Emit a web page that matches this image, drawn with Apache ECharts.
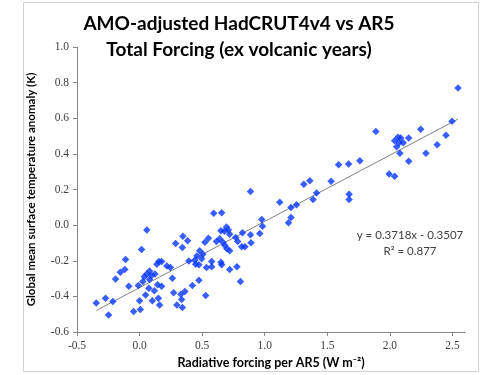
<!DOCTYPE html>
<html>
<head>
<meta charset="utf-8">
<script src="https://cdn.jsdelivr.net/npm/echarts@6/dist/echarts.min.js"></script>
<style>
  html, body { margin: 0; padding: 0; background: #fff; }
  #chart { width: 500px; height: 375px; }
</style>
</head>
<body>
<div id="chart"></div>
<script>
// radiative forcing (x) and AMO-adjusted temperature anomaly (y)
const forcing = [
  0.058, 0.346, 0.384, 0.288, 0.342, 0.016, -0.112, 0.458, 0.394, 0.442, 0.448,
  0.154, 0.138, 0.176, 0.218, 0.246, -0.118, -0.154, -0.192, 0.08, 0.058, 0.096,
  0.038, 0.08, 0.122, 0.026, 0.262, -0.010, -0.086, 0.144, 0.176, 0.074, 0.118,
  0.048, 0.422, 0.272, 0.330, 0.362, 0.336, 0.150, 0.102, 0.0, 0.16, 0.298, 0.342,
  -0.346, -0.272, -0.214, -0.248, -0.048, 0.006,
  0.886, 1.12, 1.210, 1.254, 0.592, 0.656, 0.976, 0.982, 1.210, 1.190, 0.694,
  0.710, 0.678, 0.650, 0.72, 0.822, 0.886, 0.96, 0.550, 0.522, 0.614, 0.64, 0.666,
  0.768, 0.784, 0.890, 0.816, 0.842, 0.682, 0.698, 0.72, 0.48, 0.506, 0.496, 0.474,
  0.576, 0.534, 0.576, 0.650, 0.656, 0.778, 0.72, 0.806, 0.474, 0.528,
  1.590, 1.670, 1.76, 1.312, 1.36, 1.530, 1.414, 1.386, 1.674, 1.674, 1.888,
  2.544, 2.496, 2.448, 2.378, 2.288, 2.246, 2.150, 2.106, 2.086, 2.064, 2.038,
  2.074, 2.054, 2.08, 2.150, 1.994, 2.038
];
const anomaly = [
  -0.028, -0.062, -0.088, -0.103, -0.125, -0.137, -0.193, -0.174, -0.201, -0.197, -0.219,
  -0.204, -0.219, -0.204, -0.230, -0.238, -0.249, -0.264, -0.302, -0.257, -0.275, -0.283,
  -0.290, -0.305, -0.275, -0.316, -0.298, -0.339, -0.343, -0.335, -0.343, -0.354, -0.369,
  -0.392, -0.339, -0.380, -0.388, -0.372, -0.417, -0.410, -0.425, -0.425, -0.448, -0.448, -0.462,
  -0.437, -0.410, -0.429, -0.504, -0.485, -0.474,
  0.189, 0.129, 0.099, 0.114, 0.066, 0.069, 0.032, -0.006, 0.043, 0.013, -0.010,
  -0.028, -0.035, -0.032, -0.051, -0.043, -0.054, -0.047, -0.073, -0.096, -0.092, -0.077, -0.096,
  -0.069, -0.092, -0.099, -0.122, -0.122, -0.114, -0.133, -0.144, -0.144, -0.163, -0.189, -0.223,
  -0.204, -0.238, -0.234, -0.208, -0.223, -0.234, -0.249, -0.316, -0.309, -0.395,
  0.339, 0.343, 0.361, 0.230, 0.249, 0.246, 0.181, 0.144, 0.174, 0.144, 0.526,
  0.770, 0.583, 0.504, 0.451, 0.403, 0.538, 0.489, 0.462, 0.489, 0.493, 0.474,
  0.462, 0.440, 0.403, 0.358, 0.287, 0.275
];
const xTicks = [-0.5, 0, 0.5, 1.0, 1.5, 2.0, 2.5];
const slope = 0.3718;
const intercept = -0.3507;
const rSquared = 0.877;

const points = forcing.map((x, i) => [x, anomaly[i]]);
const xMin = Math.min(...forcing);
const xMax = Math.max(...forcing);
const trend = [xMin, xMax].map(x => [x, slope * x + intercept]);

const chart = echarts.init(document.getElementById('chart'), null, { renderer: 'canvas' });

const labelFont = { color: '#404040', fontSize: 11.5, fontFamily: 'Liberation Serif' };

chart.setOption({
  animation: false,
  title: {
    text: 'AMO-adjusted HadCRUT4v4 vs AR5\nTotal Forcing (ex volcanic years)',
    left: 234,
    top: 6,
    textAlign: 'center',
    textStyle: {
      fontFamily: 'Lato',
      fontWeight: 'bold',
      fontSize: 19,
      lineHeight: 26,
      color: '#000'
    }
  },
  grid: { left: 77, right: 35, top: 47, bottom: 43 },
  xAxis: {
    type: 'value',
    min: -0.5,
    max: 2.6,
    interval: 0.5,
    name: 'Radiative forcing per AR5 (W m⁻²)',
    nameLocation: 'middle',
    nameGap: 24,
    nameTextStyle: { fontFamily: 'Lato', fontWeight: 'bold', fontSize: 12.5, color: '#000' },
    splitLine: { show: false },
    axisLine: { onZero: false, lineStyle: { color: '#868686' } },
    axisTick: { show: true, length: 4, inside: false, customValues: xTicks, lineStyle: { color: '#868686' } },
    axisLabel: { customValues: xTicks, formatter: v => v.toFixed(1), margin: 8, ...labelFont }
  },
  yAxis: {
    type: 'value',
    min: -0.6,
    max: 1.0,
    interval: 0.2,
    name: 'Global mean surface temperature anomaly (K)',
    nameLocation: 'middle',
    nameGap: 40,
    nameTextStyle: { fontFamily: 'Lato', fontWeight: 'bold', fontSize: 11.5, color: '#000' },
    splitLine: { show: false },
    axisLine: { show: true, onZero: false, lineStyle: { color: '#868686' } },
    axisTick: { show: true, length: 4, lineStyle: { color: '#868686' } },
    axisLabel: {
      formatter: v => (Math.abs(v) < 1e-9 ? 0 : v).toFixed(1),
      margin: 8,
      ...labelFont
    }
  },
  graphic: [
    {
      type: 'rect',
      shape: { x: 23.5, y: 2.5, width: 455, height: 369 },
      style: { fill: 'none', stroke: '#d0d0d0', lineWidth: 1 },
      silent: true
    },
    {
      type: 'text',
      x: 410,
      y: 243,
      style: {
        text: 'y = ' + slope + 'x - ' + Math.abs(intercept) + '\nR² = ' + rSquared,
        align: 'center',
        verticalAlign: 'middle',
        fontFamily: 'Lato',
        fontSize: 11.5,
        lineHeight: 16,
        fill: '#404040'
      }
    }
  ],
  series: [
    {
      type: 'line',
      data: trend,
      symbol: 'none',
      lineStyle: { color: '#808080', width: 1 },
      z: 1
    },
    {
      type: 'scatter',
      data: points,
      symbol: 'path://M0,-1L1,0L0,1L-1,0Z',
      symbolSize: 7.5,
      itemStyle: { color: '#0636ff' },
      z: 2
    }
  ]
});
</script>
</body>
</html>
